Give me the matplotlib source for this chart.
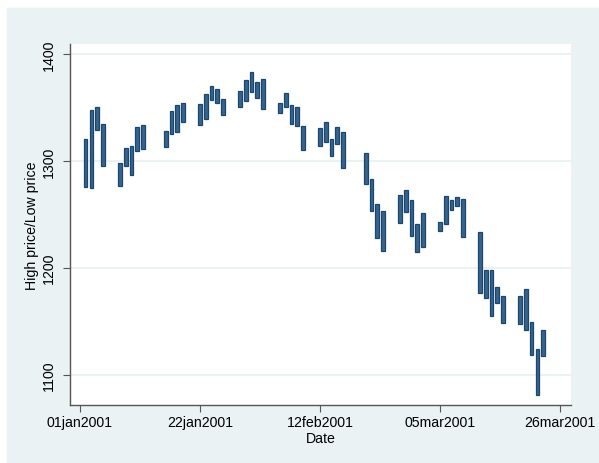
import matplotlib
matplotlib.use("Agg")
import matplotlib.pyplot as plt
import matplotlib.dates as mdates
import matplotlib.patches as mpatches
import numpy as np

# Data: S&P 500 daily high/low, Jan-Mar 2001
dates = [
    "2001-01-02", "2001-01-03", "2001-01-04", "2001-01-05",
    "2001-01-08", "2001-01-09", "2001-01-10", "2001-01-11", "2001-01-12",
    "2001-01-16", "2001-01-17", "2001-01-18", "2001-01-19",
    "2001-01-22", "2001-01-23", "2001-01-24", "2001-01-25", "2001-01-26",
    "2001-01-29", "2001-01-30", "2001-01-31", "2001-02-01", "2001-02-02",
    "2001-02-05", "2001-02-06", "2001-02-07", "2001-02-08", "2001-02-09",
    "2001-02-12", "2001-02-13", "2001-02-14", "2001-02-15", "2001-02-16",
    "2001-02-20", "2001-02-21", "2001-02-22", "2001-02-23",
    "2001-02-26", "2001-02-27", "2001-02-28", "2001-03-01", "2001-03-02",
    "2001-03-05", "2001-03-06", "2001-03-07", "2001-03-08", "2001-03-09",
    "2001-03-12", "2001-03-13", "2001-03-14", "2001-03-15", "2001-03-16",
    "2001-03-19", "2001-03-20", "2001-03-21", "2001-03-22", "2001-03-23",
]
high = [
    1320.28, 1347.76, 1350.24, 1334.77,
    1298.35, 1311.72, 1313.76, 1332.19, 1333.21,
    1327.81, 1346.92, 1352.71, 1354.55,
    1353.62, 1362.90, 1369.75, 1367.35, 1357.51,
    1365.54, 1375.68, 1383.37, 1373.50, 1376.38,
    1354.56, 1363.55, 1352.26, 1350.32, 1332.53,
    1330.96, 1336.62, 1320.73, 1331.29, 1326.61,
    1307.16, 1282.97, 1259.94, 1252.82,
    1267.69, 1272.76, 1263.47, 1241.36, 1251.01,
    1242.55, 1267.42, 1263.86, 1266.50, 1264.74,
    1233.42, 1197.83, 1197.66, 1182.04, 1173.56,
    1173.50, 1180.56, 1149.39, 1124.27, 1141.83,
]
low = [
    1276.05, 1274.62, 1329.14, 1294.95,
    1276.29, 1295.14, 1287.28, 1309.72, 1311.59,
    1313.33, 1325.41, 1327.41, 1336.74,
    1333.84, 1339.63, 1357.28, 1354.63, 1342.75,
    1350.36, 1356.20, 1364.66, 1359.34, 1348.72,
    1344.48, 1350.04, 1334.26, 1332.42, 1309.98,
    1313.64, 1317.51, 1304.72, 1315.92, 1293.18,
    1278.44, 1253.16, 1228.33, 1215.44,
    1241.71, 1252.26, 1229.65, 1214.50, 1219.74,
    1234.04, 1241.41, 1253.80, 1257.60, 1228.42,
    1176.78, 1171.50, 1155.35, 1166.71, 1148.64,
    1147.18, 1142.19, 1118.74, 1081.19, 1117.58,
]
xtick_dates = ["2001-01-01", "2001-01-22", "2001-02-12", "2001-03-05", "2001-03-26"]
yticks = [1100, 1200, 1300, 1400]

plt.rcParams["font.family"] = ["Liberation Sans", "DejaVu Sans"]

x = mdates.datestr2num(dates)
high = np.array(high)
low = np.array(low)
xt = mdates.datestr2num(xtick_dates)

bg = "#EAF2F3"
fig = plt.figure(figsize=(5.99, 4.64), dpi=100, facecolor="white")
fig.patches.append(mpatches.Rectangle((7 / 599, 0), 592 / 599, 455 / 464,
                                      transform=fig.transFigure, color=bg, zorder=-10))
ax = fig.add_axes([70 / 599, 58.3 / 464, 501 / 599, 360.7 / 464])
ax.set_facecolor("white")

ax.bar(x, high - low, bottom=low, width=0.62, color="#3A6389",
       edgecolor="#1A476F", linewidth=0.9, zorder=3)

ax.set_xlim(xt[0] - 1.75, xt[0] + 85.9)
ax.set_ylim(1071.9, 1409.4)
ax.set_xticks(xt)
ax.set_xticklabels([mdates.num2date(d).strftime("%d%b%Y").lower() for d in xt])
ax.set_yticks(yticks)
ax.set_yticklabels([str(v) for v in yticks], rotation=90, va="center")

ax.grid(axis="y", color=bg, linewidth=1.5, zorder=0)
for side in ["top", "right"]:
    ax.spines[side].set_visible(False)
for side in ["left", "bottom"]:
    ax.spines[side].set_color("#555555")
    ax.spines[side].set_linewidth(1.0)
ax.tick_params(direction="out", length=5, width=0.8, color="#555555",
               labelsize=10.2, labelcolor="black")
ax.tick_params(axis="y", pad=5)
ax.tick_params(axis="x", pad=2.5)

ax.set_xlabel("Date", fontsize=10.2, labelpad=1)
ax.set_ylabel("High price/Low price", fontsize=10.2, labelpad=2)

fig.savefig("out.png", dpi=100, facecolor=fig.get_facecolor())
